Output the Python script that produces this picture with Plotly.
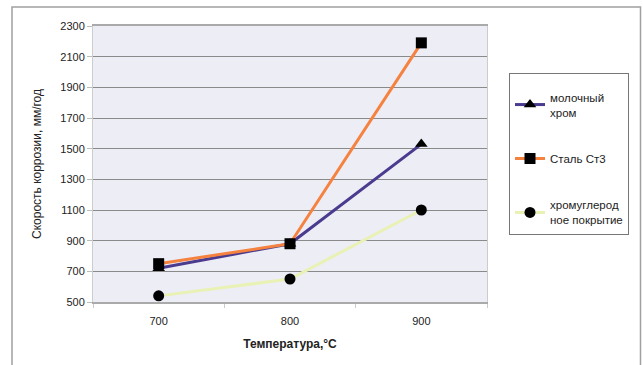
import plotly.graph_objects as go

temps = ["700", "800", "900"]
milk_chrome = [720, 880, 1530]
steel_st3 = [750, 880, 2190]
chrome_carbon = [540, 650, 1100]

names = ["молочный<br>хром", "Сталь Ст3", "хромуглерод<br>ное покрытие"]
colors = ["#4A3B8F", "#F5823F", "#E9F1B4"]
symbols = ["triangle-up", "square", "circle"]
series = [milk_chrome, steel_st3, chrome_carbon]

fig = go.Figure()
for i, (nm, vals, col, sym) in enumerate(zip(names, series, colors, symbols)):
    fig.add_trace(go.Scatter(
        x=temps, y=vals, name=nm, mode="lines+markers",
        line=dict(color=col, width=3),
        marker=dict(symbol=sym, size=11, color="black"),
        legendgroup=f"g{i}",
    ))

L, R, T, B = 93, 487, 26, 302
W, H = 643, 365

def px(x):
    return (x - L) / (R - L)

def py(y):
    return (B - y) / (B - T)

fig.update_layout(
    width=W, height=H,
    margin=dict(l=L, r=W - R, t=T, b=H - B, autoexpand=False),
    paper_bgcolor="white",
    plot_bgcolor="#EDEDF6",
    font=dict(family="Liberation Sans, Arial, sans-serif", size=11, color="#222"),
    showlegend=True,
    legend=dict(
        x=px(509), y=py(73), xanchor="left", yanchor="top",
        bordercolor="#777", borderwidth=1, bgcolor="white",
        font=dict(size=11.5, color="#222"),
        title=dict(text=" ", font=dict(size=7)),
        tracegroupgap=28,
        itemwidth=30,
    ),
    xaxis=dict(
        type="category", tickson="boundaries", ticks="outside", ticklen=4,
        tickcolor="#ccc", showgrid=False, showline=True, linecolor="#aaa",
        linewidth=1.5, mirror=True, range=[-0.5, 2.5], automargin=False,
        ticklabelstandoff=8,
        title=dict(text="<b>Температура,°C</b>", font=dict(size=12, color="#222"), standoff=14),
        tickfont=dict(size=11),
    ),
    yaxis=dict(
        range=[500, 2300], dtick=200, tick0=500, showgrid=True, gridcolor="#8a8a8a",
        gridwidth=1, ticks="outside", ticklen=5, tickcolor="#bbb",
        showline=True, linecolor="#ccc", linewidth=1, mirror=True,
        zeroline=False, automargin=False,
        title=dict(text="Скорость коррозии, мм/год", font=dict(size=12, color="#222"), standoff=16),
        tickfont=dict(size=11),
    ),
    shapes=[
        dict(type="rect", xref="paper", yref="paper",
             x0=px(12), x1=px(640.5), y0=py(400), y1=py(7),
             line=dict(color="#a0a0a0", width=1.5), layer="below"),
    ],
)

fig.write_html("out.html", config={"displayModeBar": False},
               post_script="document.body.style.margin='0';")
